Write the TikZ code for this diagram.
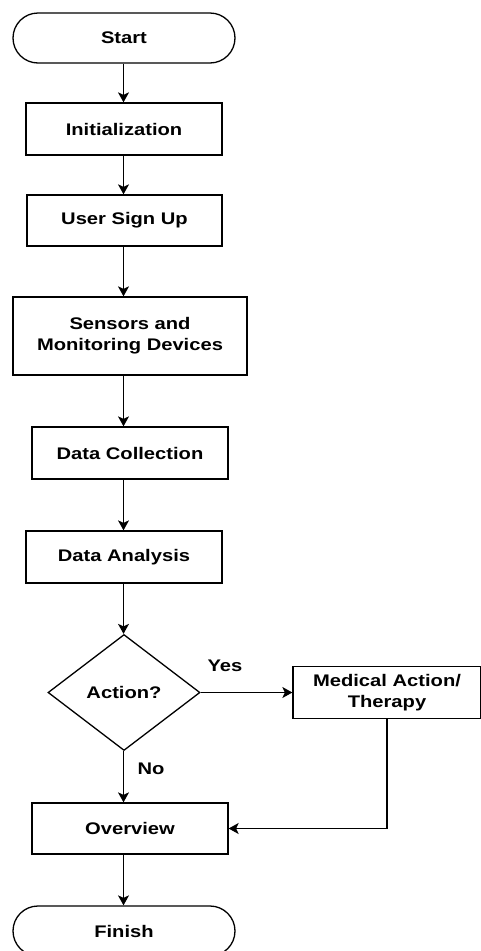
\documentclass[tikz,border=0pt]{standalone}
\usepackage{fontspec}
\setmainfont{Liberation Sans}[FakeStretch=1.2]
\usetikzlibrary{arrows.meta,shapes.geometric}
\tikzset{
  base/.style={draw=black, line width=1.3pt, font=\fontsize{16.8}{21}\selectfont\bfseries, align=center, inner sep=0pt},
  procbox/.style={base, rectangle},
  termbox/.style={base, rectangle, rounded corners=25pt, minimum width=222pt, minimum height=50pt},
  conn/.style={line width=1.3pt, -{Stealth[length=10pt,width=11pt,inset=2.5pt]}},
  lbl/.style={font=\fontsize{16.8}{21}\selectfont\bfseries, inner sep=0pt}
}
\begin{document}
\begin{tikzpicture}[x=1pt,y=-1pt]
\useasboundingbox (0,0) rectangle (480,951);
\coordinate (spine) at (123.5,0);
\node[termbox] (start) at (124,38) {Start};
\node[procbox, minimum width=196pt, minimum height=52pt] (init) at (124,129) {Initialization};
\node[procbox, minimum width=195pt, minimum height=51pt] (signup) at (124.5,220.5) {User Sign Up};
\node[procbox, minimum width=234pt, minimum height=78pt] (sensors) at (130,336) {Sensors and\\Monitoring Devices};
\node[procbox, minimum width=196pt, minimum height=52pt] (datacol) at (130,453) {Data Collection};
\node[procbox, minimum width=196pt, minimum height=52pt] (dataan) at (124,557) {Data Analysis};
\node[base, diamond, minimum width=152pt, minimum height=116pt, shape aspect=1.31] (dec) at (124,692.5) {Action?};
\node[procbox, minimum width=188pt, minimum height=52pt] (med) at (387,692.5) {Medical Action/\\Therapy};
\node[procbox, minimum width=196pt, minimum height=51pt] (over) at (130,828.5) {Overview};
\node[termbox] (finish) at (124,931) {Finish};
\node[lbl] (yes) at (225,666) {Yes};
\node[lbl] (no) at (151,769) {No};
\draw[conn] (start.south -| spine) -- (init.north -| spine);
\draw[conn] (init.south -| spine) -- (signup.north -| spine);
\draw[conn] (signup.south -| spine) -- (sensors.north -| spine);
\draw[conn] (sensors.south -| spine) -- (datacol.north -| spine);
\draw[conn] (datacol.south -| spine) -- (dataan.north -| spine);
\draw[conn] (dataan.south -| spine) -- (dec.north -| spine);
\draw[conn] (dec.east) -- (med.west);
\draw[conn] (dec.south -| spine) -- (over.north -| spine);
\draw[conn] (med.south) |- (over.east);
\draw[conn] (over.south -| spine) -- (finish.north -| spine);
\end{tikzpicture}
\end{document}
